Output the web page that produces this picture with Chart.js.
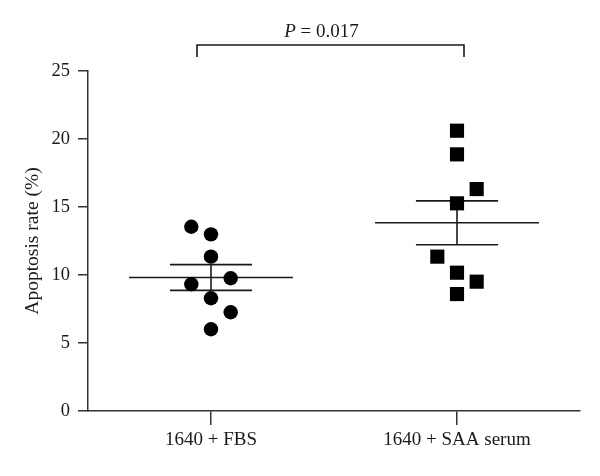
<!DOCTYPE html>
<html>
<head>
<meta charset="utf-8">
<script src="https://cdn.jsdelivr.net/npm/chart.js@4.4.1/dist/chart.umd.min.js"></script>
<style>
  html, body { margin: 0; padding: 0; background: #ffffff; }
  #wrap { width: 600px; height: 476px; position: relative; }
</style>
</head>
<body>
<div id="wrap"><canvas id="c" width="600" height="476"></canvas></div>
<script>
// ---- data ----
const categories = ['1640 + FBS', '1640 + SAA serum'];
const fbsValues = [13.55, 12.99, 11.35, 9.76, 9.32, 8.29, 7.26, 6.01];
const fbsJitter = [-0.08, 0, 0, 0.08, -0.08, 0, 0.08, 0];
const saaValues = [20.61, 18.87, 16.32, 15.27, 11.35, 10.17, 9.51, 8.60];
const saaJitter = [0, 0, 0.08, 0, -0.08, 0, 0.08, 0];
const yTicks = [0, 5, 10, 15, 20, 25];
const pLabel = '0.017';
const yTitle = 'Apoptosis rate (%)';

const FONT = "'Liberation Serif', 'Times New Roman', serif";
const INK = '#1a1a1a';
const AXIS = '#333333';

function mean(a) { return a.reduce((s, v) => s + v, 0) / a.length; }
function sem(a) {
  const m = mean(a);
  const v = a.reduce((s, x) => s + (x - m) * (x - m), 0) / (a.length - 1);
  return Math.sqrt(v) / Math.sqrt(a.length);
}
function pts(values, jitter, pos) {
  return values.map((v, i) => ({ x: pos + jitter[i], y: v }));
}
function summaryDatasets(values, pos) {
  const m = mean(values), s = sem(values);
  const base = { type: 'line', showLine: true, pointRadius: 0, borderColor: INK, borderWidth: 1.6, fill: false };
  return [
    Object.assign({}, base, { data: [{ x: pos - 0.333, y: m }, { x: pos + 0.333, y: m }] }),
    Object.assign({}, base, { data: [{ x: pos - 0.167, y: m + s }, { x: pos + 0.167, y: m + s }] }),
    Object.assign({}, base, { data: [{ x: pos - 0.167, y: m - s }, { x: pos + 0.167, y: m - s }] }),
    Object.assign({}, base, { data: [{ x: pos, y: m - s }, { x: pos, y: m + s }] })
  ];
}

const bracketPlugin = {
  id: 'bracket',
  afterDraw(chart) {
    const ctx = chart.ctx;
    const xs = chart.scales.x;
    const x1 = xs.getPixelForValue(1) - 14;
    const x2 = xs.getPixelForValue(2) + 7;
    const top = chart.chartArea.top - 26;
    ctx.save();
    ctx.strokeStyle = INK;
    ctx.lineWidth = 1.6;
    ctx.beginPath();
    ctx.moveTo(x1, top + 12);
    ctx.lineTo(x1, top);
    ctx.lineTo(x2, top);
    ctx.lineTo(x2, top + 12);
    ctx.stroke();
    // P = 0.017 with italic P
    ctx.fillStyle = INK;
    ctx.textBaseline = 'alphabetic';
    const italic = 'italic 19px ' + FONT;
    const normal = '19px ' + FONT;
    ctx.font = italic;
    const wP = ctx.measureText('P').width;
    ctx.font = normal;
    const rest = ' = ' + pLabel;
    const wR = ctx.measureText(rest).width;
    const cx = (x1 + x2) / 2 - 9;
    const sx = cx - (wP + wR) / 2;
    const base = top - 8;
    ctx.font = italic;
    ctx.fillText('P', sx, base);
    ctx.font = normal;
    ctx.fillText(rest, sx + wP, base);
    ctx.restore();
  }
};

new Chart(document.getElementById('c'), {
  type: 'scatter',
  data: {
    datasets: [
      { data: pts(fbsValues, fbsJitter, 1), pointStyle: 'circle', pointRadius: 7.2, pointHoverRadius: 7.2,
        backgroundColor: '#000', borderColor: '#000', borderWidth: 0 },
      { data: pts(saaValues, saaJitter, 2), pointStyle: 'rect', pointRadius: 10, pointHoverRadius: 10,
        backgroundColor: '#000', borderColor: '#000', borderWidth: 0 },
      ...summaryDatasets(fbsValues, 1),
      ...summaryDatasets(saaValues, 2)
    ]
  },
  options: {
    responsive: false,
    animation: false,
    events: [],
    layout: { padding: { top: 71, right: 20, left: 0, bottom: 0 } },
    plugins: { legend: { display: false }, tooltip: { enabled: false } },
    scales: {
      x: {
        type: 'linear',
        min: 0.5, max: 2.5,
        afterBuildTicks(scale) { scale.ticks = categories.map((c, i) => ({ value: i + 1 })); },
        afterFit(scale) { scale.height = 476 - 411; },
        ticks: {
          callback(v) { return categories[Math.round(v) - 1]; },
          color: INK, font: { family: FONT, size: 19 }, padding: 4, maxRotation: 0, autoSkip: false
        },
        grid: { drawOnChartArea: false, drawTicks: true, tickLength: 14, color: AXIS, lineWidth: 1.5 },
        border: { display: true, color: AXIS, width: 1.5 }
      },
      y: {
        type: 'linear',
        min: 0, max: 25,
        afterBuildTicks(scale) { scale.ticks = yTicks.map(v => ({ value: v })); },
        afterFit(scale) { scale.width = 88; },
        ticks: { color: INK, font: { family: FONT, size: 18.5 }, padding: 8 },
        grid: { drawOnChartArea: false, drawTicks: true, tickLength: 10, color: AXIS, lineWidth: 1.5 },
        border: { display: true, color: AXIS, width: 1.5 },
        title: { display: true, text: yTitle, color: INK, font: { family: FONT, size: 19.5 }, padding: { top: 21 } }
      }
    }
  },
  plugins: [bracketPlugin]
});
</script>
</body>
</html>
